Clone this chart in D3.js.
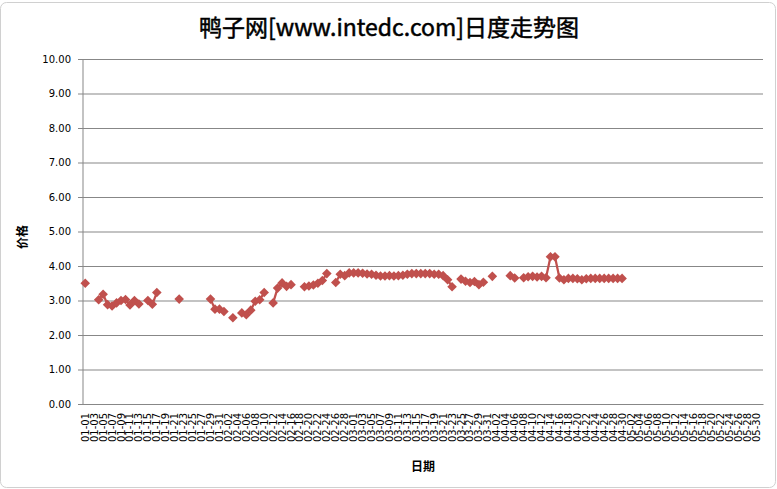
<!DOCTYPE html>
<html>
<head>
<meta charset="utf-8">
<script src="https://cdn.jsdelivr.net/npm/d3@7"></script>
<style>
	html, body { margin: 0; padding: 0; background: #fff; }
	svg text { fill: #000; }
</style>
</head>
<body>
<div id="chart"></div>
<script>
//// categories: every day from 01-01 to 05-31 (2012, leap year)
const months = ['01', '02', '03', '04', '05'];
const daysInMonth = [31, 29, 31, 30, 31];

//// observed prices (days without a quote are left out)
const priceDates = [
	'01-01', '01-04', '01-05', '01-06', '01-07', '01-08', '01-09', '01-10', '01-11', '01-12', '01-13',
	'01-15', '01-16', '01-17', '01-22', '01-29', '01-30', '01-31', '02-01', '02-03', '02-05', '02-06',
	'02-07', '02-08', '02-09', '02-10', '02-12', '02-13', '02-14', '02-15', '02-16', '02-19', '02-20',
	'02-21', '02-22', '02-23', '02-24', '02-26', '02-27', '02-28', '02-29', '03-01', '03-02', '03-03',
	'03-04', '03-05', '03-06', '03-07', '03-08', '03-09', '03-10', '03-11', '03-12', '03-13', '03-14',
	'03-15', '03-16', '03-17', '03-18', '03-19', '03-20', '03-21', '03-22', '03-23', '03-25', '03-26',
	'03-27', '03-28', '03-29', '03-30', '04-01', '04-05', '04-06', '04-08', '04-09', '04-10', '04-11',
	'04-12', '04-13', '04-14', '04-15', '04-16', '04-17', '04-18', '04-19', '04-20', '04-21', '04-22',
	'04-23', '04-24', '04-25', '04-26', '04-27', '04-28', '04-29', '04-30'
];
const prices = [
	3.50, 3.02, 3.18, 2.88, 2.84, 2.93, 3.00, 3.03, 2.87, 3.00, 2.90,
	3.00, 2.89, 3.23, 3.04, 3.04, 2.75, 2.75, 2.68, 2.50, 2.64, 2.59,
	2.72, 2.98, 3.02, 3.23, 2.93, 3.36, 3.51, 3.41, 3.46, 3.40, 3.42,
	3.45, 3.50, 3.58, 3.78, 3.52, 3.76, 3.72, 3.80, 3.80, 3.80, 3.79,
	3.77, 3.76, 3.73, 3.71, 3.71, 3.72, 3.71, 3.72, 3.73, 3.76, 3.78,
	3.78, 3.78, 3.78, 3.78, 3.76, 3.76, 3.72, 3.60, 3.40, 3.62, 3.56,
	3.52, 3.55, 3.46, 3.53, 3.70, 3.72, 3.65, 3.66, 3.69, 3.70, 3.68,
	3.70, 3.66, 4.27, 4.27, 3.65, 3.60, 3.64, 3.64, 3.63, 3.60, 3.63,
	3.64, 3.64, 3.64, 3.64, 3.64, 3.64, 3.64, 3.64
];

const yTicks = [0, 1, 2, 3, 4, 5, 6, 7, 8, 9, 10];
const titleText = '鸭子网[www.intedc.com]日度走势图';
const xTitle = '日期';
const yTitle = '价格';

const W = 777, H = 489;
const margin = { top: 59, right: 14, bottom: 85, left: 83 };
const innerW = W - margin.left - margin.right;
const innerH = H - margin.top - margin.bottom;
const red = '#c0504d';
const gridColor = '#878787';

//// build category list
const days = [];
months.forEach((m, i) => {
	for (let d = 1; d <= daysInMonth[i]; d++) {
		days.push(m + '-' + (d < 10 ? '0' + d : d));
	}
});

//// one entry per category, null where no price
const priceMap = new Map(priceDates.map((d, i) => [d, prices[i]]));
const series = days.map(d => ({ day: d, value: priceMap.has(d) ? priceMap.get(d) : null }));

const svg = d3.select('#chart').append('svg')
	.attr('width', W)
	.attr('height', H);

//// chart frame
svg.append('rect')
	.attr('x', 0.5).attr('y', 2.5)
	.attr('width', W - 2).attr('height', H - 4)
	.attr('rx', 6)
	.attr('fill', '#fff')
	.attr('stroke', '#d0d0d0');

const x = d3.scaleBand()
	.domain(days)
	.range([0, innerW])
	.padding(0);

const y = d3.scaleLinear()
	.domain([0, 10])
	.range([innerH, 0]);

const g = svg.append('g')
	.attr('transform', `translate(${margin.left},${margin.top})`);

//// gridlines + y labels
const yAxis = g.append('g')
	.call(d3.axisLeft(y)
		.tickValues(yTicks)
		.tickSize(-innerW)
		.tickPadding(12)
		.tickFormat(d3.format('.2f')));
yAxis.select('.domain').remove();
yAxis.selectAll('.tick line')
	.attr('stroke', gridColor)
	.attr('x1', -5);
yAxis.selectAll('.tick text')
	.attr('font-family', 'DejaVu Sans, Verdana, sans-serif')
	.attr('font-size', 10);

//// vertical axis line
g.append('line')
	.attr('x1', 0).attr('x2', 0)
	.attr('y1', 0).attr('y2', innerH)
	.attr('stroke', gridColor);

//// x axis, every other day labelled
const xAxis = g.append('g')
	.attr('transform', `translate(0,${innerH})`)
	.call(d3.axisBottom(x)
		.tickValues(days.filter((d, i) => i % 2 === 0))
		.tickSize(0));
xAxis.select('.domain').attr('stroke', gridColor);
xAxis.selectAll('.tick text')
	.attr('font-family', 'DejaVu Sans, Verdana, sans-serif')
	.attr('font-size', 10)
	.attr('transform', 'rotate(-90)')
	.attr('text-anchor', 'end')
	.attr('x', -9)
	.attr('y', 0)
	.attr('dy', '0.35em');

//// line, broken where days are missing
const line = d3.line()
	.defined(d => d.value !== null)
	.x(d => x(d.day) + x.bandwidth() / 2)
	.y(d => y(d.value));

g.append('path')
	.datum(series)
	.attr('fill', 'none')
	.attr('stroke', red)
	.attr('stroke-width', 2.25)
	.attr('stroke-linejoin', 'round')
	.attr('d', line);

const diamond = d3.symbol().type(d3.symbolSquare).size(46);
g.selectAll('.marker')
	.data(series.filter(d => d.value !== null))
	.enter()
	.append('path')
	.attr('class', 'marker')
	.attr('d', diamond)
	.attr('fill', red)
	.attr('transform', d => `translate(${x(d.day) + x.bandwidth() / 2},${y(d.value)}) rotate(45)`);

//// titles
svg.append('text')
	.attr('x', 389).attr('y', 36)
	.attr('text-anchor', 'middle')
	.attr('font-family', 'Noto Sans CJK SC, sans-serif')
	.attr('font-size', 23)
	.attr('stroke', '#000')
	.attr('stroke-width', 0.5)
	.text(titleText);

svg.append('text')
	.attr('x', 423).attr('y', 471)
	.attr('text-anchor', 'middle')
	.attr('font-family', 'Noto Sans CJK SC, sans-serif')
	.attr('font-weight', 'bold')
	.attr('font-size', 12)
	.text(xTitle);

svg.append('text')
	.attr('transform', 'translate(27,237) rotate(-90)')
	.attr('text-anchor', 'middle')
	.attr('font-family', 'Noto Sans CJK SC, sans-serif')
	.attr('font-weight', 'bold')
	.attr('font-size', 12)
	.text(yTitle);
</script>
</body>
</html>
